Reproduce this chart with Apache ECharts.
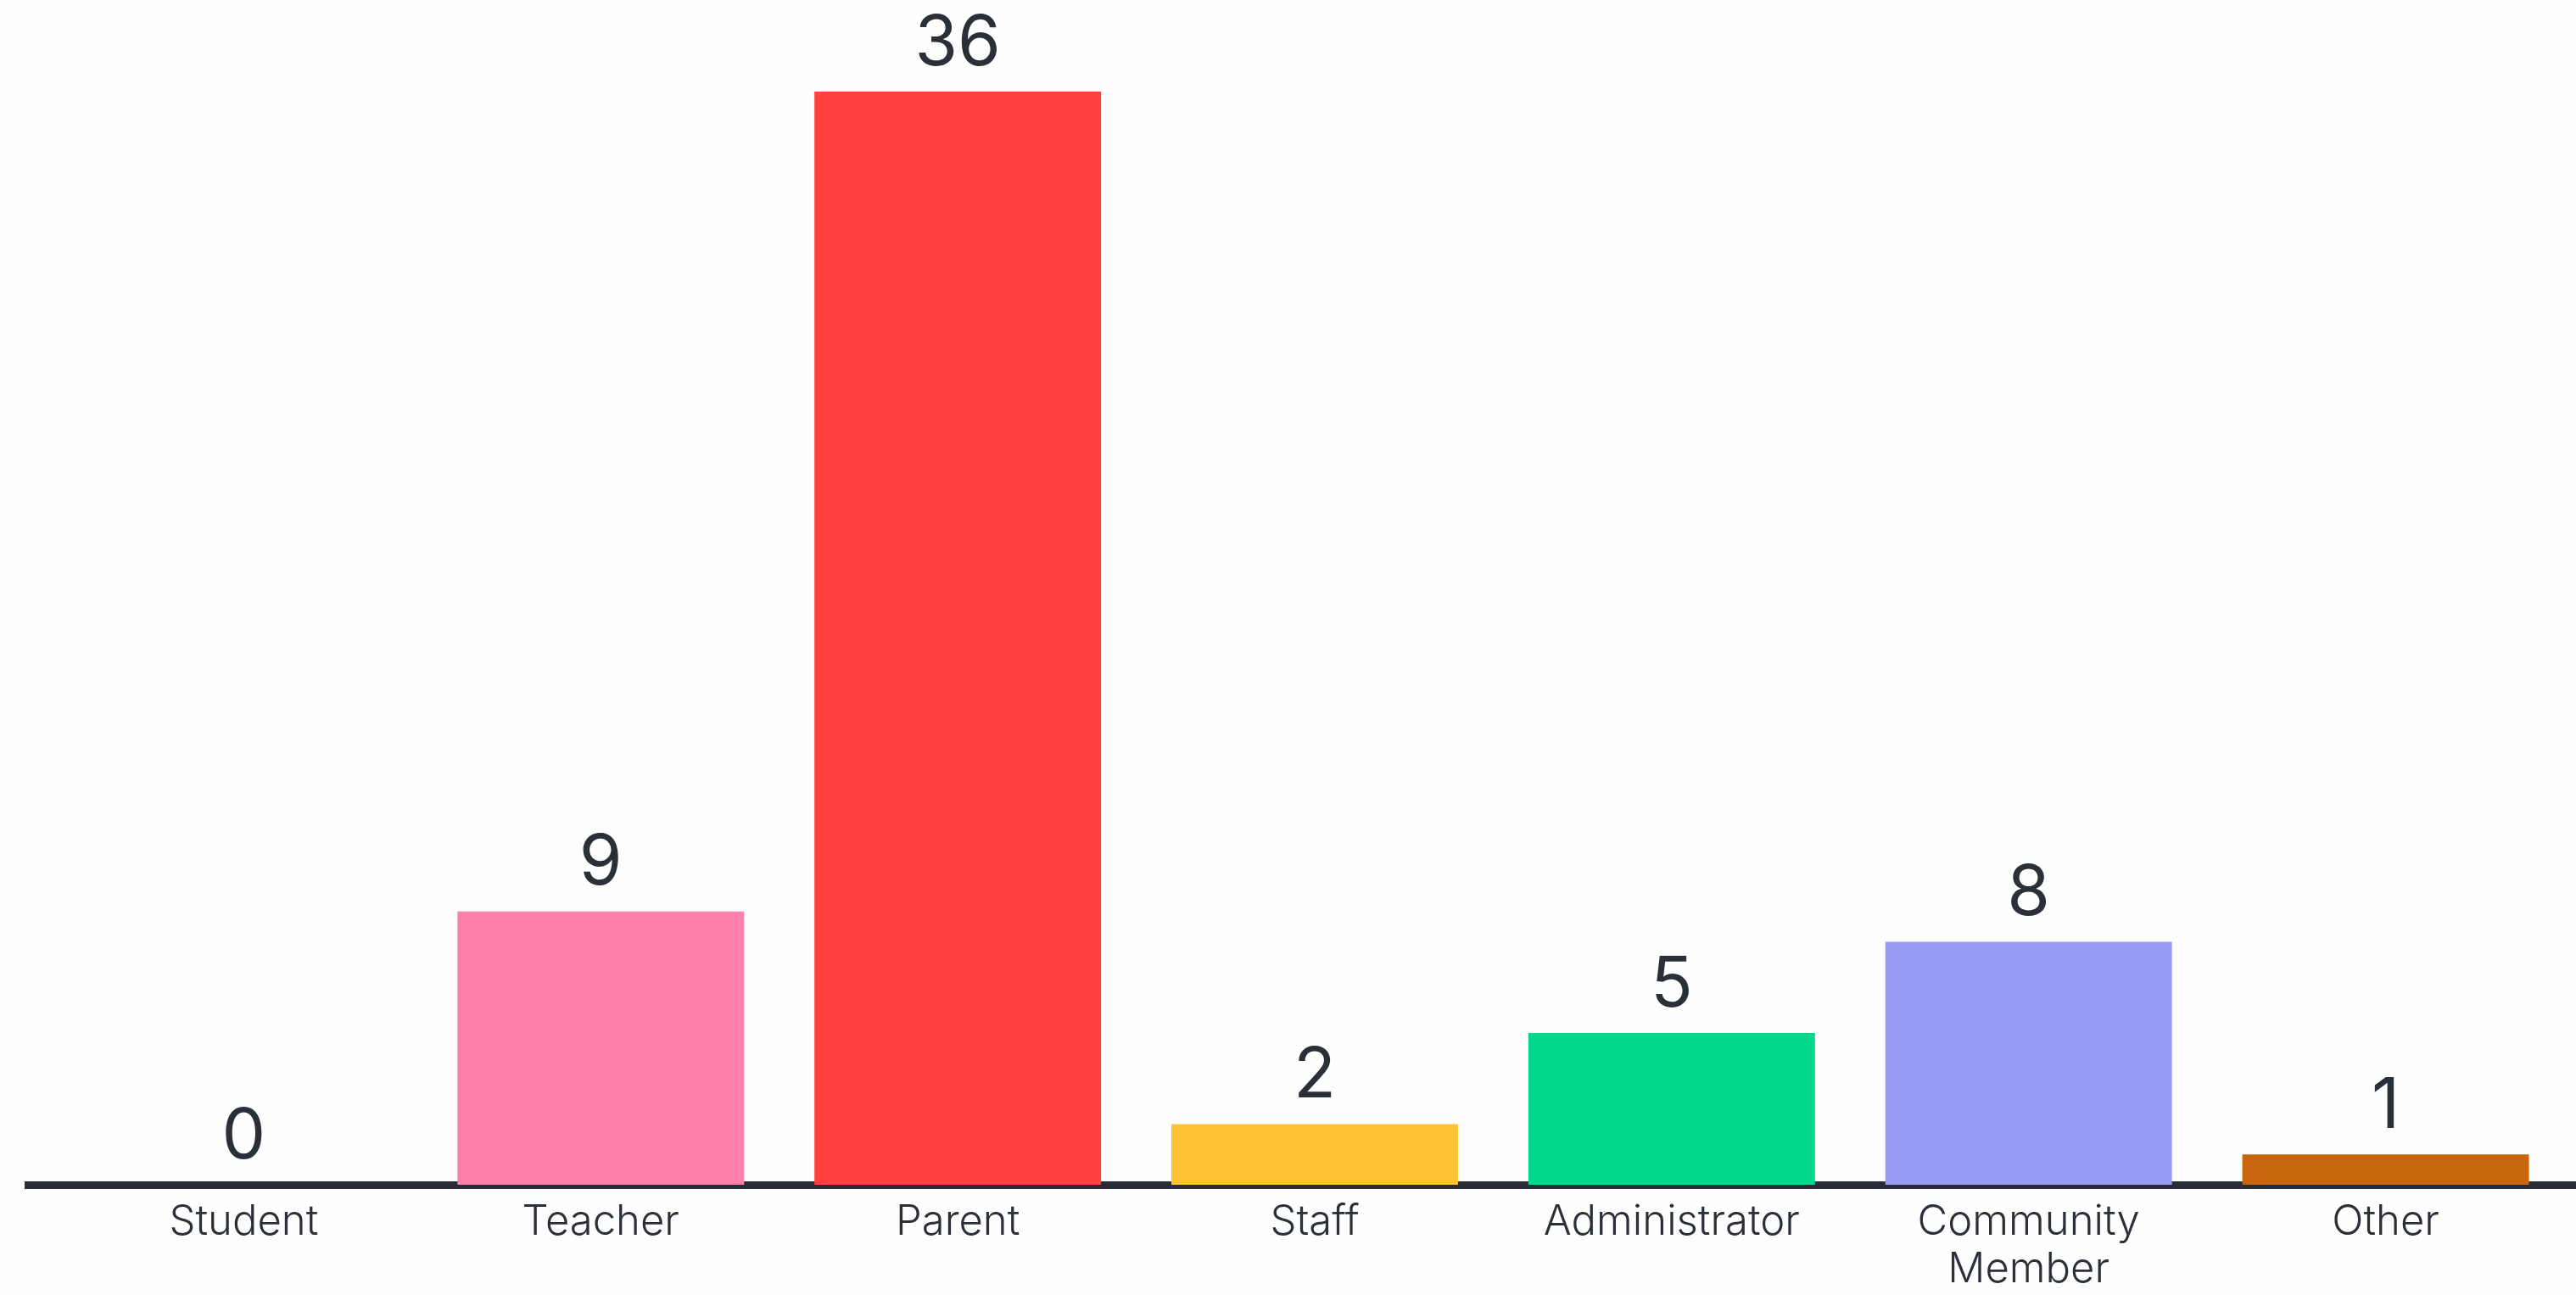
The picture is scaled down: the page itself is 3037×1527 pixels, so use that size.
<!DOCTYPE html>
<html>
<head>
<meta charset="utf-8">
<script src="https://cdn.jsdelivr.net/npm/echarts@6/dist/echarts.min.js"></script>
<style>
html,body{margin:0;padding:0;background:#fefefe;}
#chart{width:3037px;height:1527px;}
</style>
</head>
<body>
<div id="chart"></div>
<script>
const categories = ['Student', 'Teacher', 'Parent', 'Staff', 'Administrator', 'Community\nMember', 'Other'];
const values = [0, 9, 36, 2, 5, 8, 1];
const colors = ['#ff80aa', '#ff80aa', '#ff403d', '#ffc335', '#00d98b', '#979cf5', '#c9650c'];

const textColor = '#2b2f38';
const fontFam = 'Inter, "Noto Sans", sans-serif';

const chart = echarts.init(document.getElementById('chart'));
chart.setOption({
  backgroundColor: '#fefefe',
  animation: false,
  grid: [
    { left: 77, right: 14, top: 108, bottom: 130 },
    { left: 29, right: 0, top: 108, bottom: 130 }
  ],
  xAxis: [
    {
      type: 'category', gridIndex: 0, data: categories,
      axisLine: { show: false },
      axisTick: { show: false },
      axisLabel: { color: textColor, fontSize: 49, fontFamily: fontFam, fontWeight: 300, lineHeight: 56, margin: 16, interval: 0 }
    },
    {
      type: 'category', gridIndex: 1, data: [''],
      offset: 4,
      axisLine: { show: true, lineStyle: { color: '#272c36', width: 9, cap: 'butt' } },
      axisTick: { show: false },
      axisLabel: { show: false }
    }
  ],
  yAxis: [
    { type: 'value', gridIndex: 0, min: 0, max: 36, show: false, splitLine: { show: false } },
    { type: 'value', gridIndex: 1, min: 0, max: 36, show: false, splitLine: { show: false } }
  ],
  series: [{
    type: 'bar',
    xAxisIndex: 0, yAxisIndex: 0,
    barCategoryGap: '19.7%',
    data: values.map((v, i) => ({ value: v, itemStyle: { color: colors[i] } })),
    label: {
      show: true, position: 'top', distance: 15,
      color: textColor, fontSize: 82, fontFamily: fontFam
    }
  }]
});
</script>
</body>
</html>
